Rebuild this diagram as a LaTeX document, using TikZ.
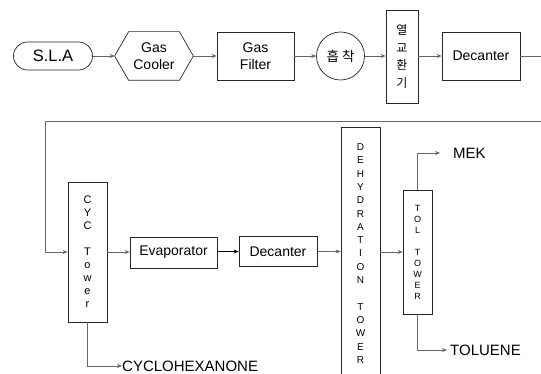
\documentclass[tikz,border=0pt]{standalone}
\usepackage{fontspec}
\setmainfont{Liberation Sans}
\newfontfamily\krfont{Noto Sans CJK KR}
\usetikzlibrary{arrows.meta}
\begin{document}
\begin{tikzpicture}[x=1pt,y=-1pt,
  box/.style={draw=black!85, line width=0.7pt, inner sep=0pt, align=center, font=\fontsize{14}{17}\selectfont},
  outline/.style={draw=black!85, line width=0.7pt},
  flow/.style={draw=black!60, line width=0.6pt, -{Stealth[length=5pt,width=4pt]}},
  flowdark/.style={draw=black, line width=0.7pt, -{Stealth[length=5pt,width=4pt]}},
  outtxt/.style={inner sep=0pt, font=\fontsize{15}{18}\selectfont},
  cyctxtstyle/.style={inner sep=0pt, align=center, font=\fontsize{11}{13}\selectfont},
  dehydtxtstyle/.style={inner sep=0pt, align=center, font=\fontsize{10}{13.3}\selectfont},
  toltxtstyle/.style={inner sep=0pt, align=center, font=\fontsize{9}{11}\selectfont}]
\useasboundingbox (0,0) rectangle (541,374);
\fill[white] (0,0) rectangle (541,374);
\clip (0,0) rectangle (541,374);

% top row
\node[box, rounded corners=14pt, minimum width=79pt, minimum height=28pt, font=\fontsize{16.5}{19}\selectfont] (sla) at (53,56) {S.L.A};
\node[box, draw=none, minimum width=78pt, minimum height=48pt] (cooler) at (154,56) {Gas\\Cooler};
\draw[outline] (cooler.west) -- ([xshift=14pt]cooler.north west) -- ([xshift=-14pt]cooler.north east) -- (cooler.east) -- ([xshift=-14pt]cooler.south east) -- ([xshift=14pt]cooler.south west) -- cycle;
\node[box, minimum width=77pt, minimum height=48pt] (filter) at (255.5,56) {Gas\\Filter};
\node[box, circle, minimum size=48pt, font=\krfont\fontsize{13.5}{15}\selectfont] (ads) at (340.5,56) {흡 착};
\node[box, minimum width=32pt, minimum height=93pt, font=\krfont\fontsize{12}{17.5}\selectfont] (hx) at (402,56.5) {열\\교\\환\\기};
\node[box, minimum width=78pt, minimum height=48pt] (dec1) at (481,56) {Decanter};

\draw[flow] (sla) -- (cooler);
\draw[flow] (cooler) -- (filter);
\draw[flow] (filter) -- (ads);
\draw[flow] (ads) -- (ads -| hx.west);
\draw[flow] (hx.east |- dec1.west) -- (dec1.west);

% bottom row
\node[box, minimum width=39pt, minimum height=140pt, cyctxtstyle] (cyc) at (87.5,252) {C\\Y\\C\\\mbox{}\\T\\o\\w\\e\\r};
\node[box, minimum width=87pt, minimum height=31pt] (evap) at (173.5,252.5) {Evaporator};
\node[box, minimum width=78pt, minimum height=30pt] (dec2) at (278,251.5) {Decanter};
\node[box, minimum width=39pt, minimum height=260pt, anchor=north] (dehyd) at (360.5,127) {};
\node[dehydtxtstyle] (dehydtxt) at (360.5,253.5) {D\\E\\H\\Y\\D\\R\\A\\T\\I\\O\\N\\\mbox{}\\T\\O\\W\\E\\R};
\node[box, minimum width=29pt, minimum height=124pt, toltxtstyle] (tol) at (417.5,252) {T\\O\\L\\\mbox{}\\T\\O\\W\\E\\R};

% recycle line
\draw[flow] (dec1.east) -- (560,56) -- (560,121) -- (45,121) |- (cyc.west);

\draw[flow] (cyc.east) -- (cyc.east -| evap.west);
\draw[flowdark] (evap.east |- dec2.west) -- (dec2.west);
\draw[flow] (dec2.east) -- (dec2.east -| dehyd.west);
\draw[flow] (dehyd.east |- tol.west) -- (tol.west);

% outputs
\node[outtxt, anchor=west] (mek) at (453,153) {MEK};
\node[outtxt, anchor=west] (tolu) at (450,350) {TOLUENE};
\node[outtxt, anchor=west] (cyclo) at (122,366) {CYCLOHEXANONE};
\draw[flow] (tol.north) |- ([xshift=-13pt]mek.west);
\draw[flow] (tol.south) |- ([xshift=-3pt]tolu.west);
\draw[flow] (cyc.south) |- (cyclo.west);
\end{tikzpicture}
\end{document}
